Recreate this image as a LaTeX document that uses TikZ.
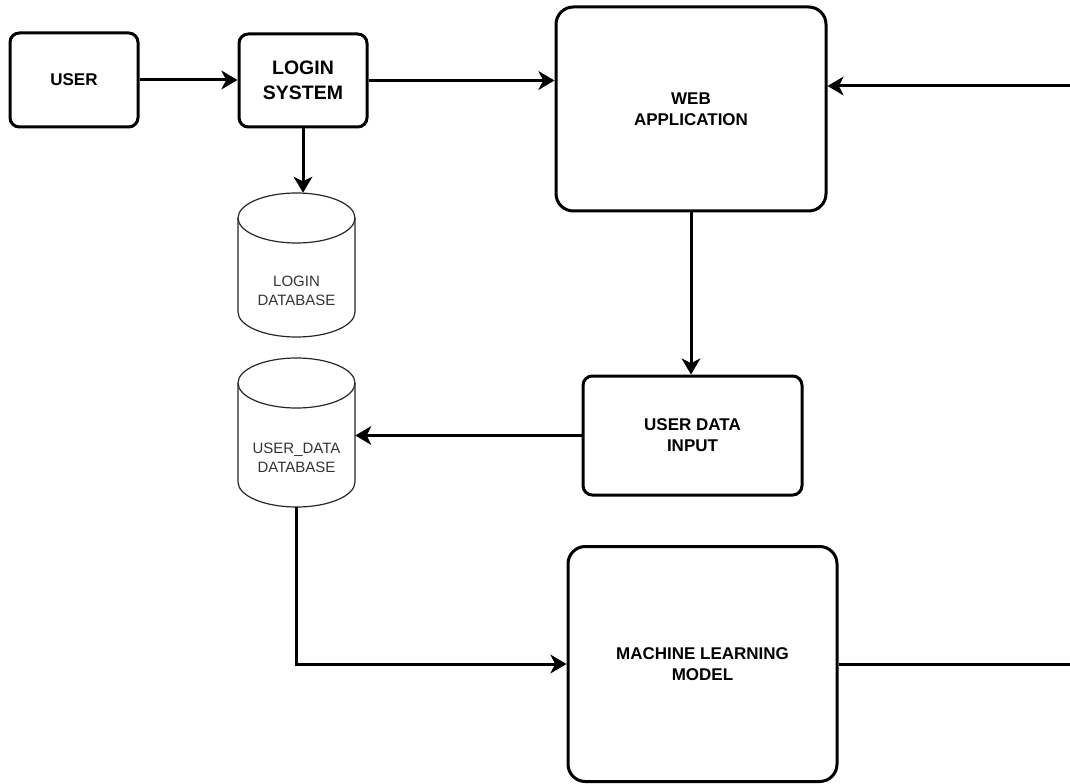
\documentclass[tikz,border=0pt]{standalone}
\usepackage{fontspec}
\setmainfont{Liberation Sans}
\usetikzlibrary{arrows.meta}
\newcommand\drawcyl[3]{% center x, top y, bottom y (px)
  \draw[cyl] (#1,#2+25) ellipse [x radius=58.5, y radius=25];
  \draw[cyl] (#1-58.5,#2+25) -- (#1-58.5,#3-25)
     arc[start angle=180, end angle=0, x radius=58.5, y radius=25] -- (#1+58.5,#2+25);
}
\begin{document}
\begin{tikzpicture}[x=0.75pt,y=-0.75pt,
  box/.style={draw, line width=2.25pt, rounded corners=7pt, align=center,
    font=\bfseries\fontsize{12.75}{15.75}\selectfont, inner sep=0pt},
  big/.style={box, rounded corners=13pt},
  conn/.style={line width=2.25pt, -{Stealth[length=12pt,width=14pt,inset=3.5pt]}},
  dbbox/.style={draw=none, minimum width=87.75pt, inner sep=0pt},
  dbtext/.style={align=center, font=\fontsize{11.25}{14.25}\selectfont, text=black!80, inner sep=0pt},
  cyl/.style={line width=0.9pt, black!85}]
\useasboundingbox (0,0) rectangle (1070,784);
\clip (0,0) rectangle (1070,784);

% boxes
\node[box, minimum width=96pt, minimum height=70.5pt] (user) at (74,80) {USER};
\node[box, minimum width=96pt, minimum height=69.75pt,
      font=\bfseries\fontsize{14.6}{18.75}\selectfont] (login) at (303,80.5) {LOGIN\\SYSTEM};
\node[big, minimum width=202.5pt, minimum height=153pt] (web) at (691,109) {WEB\\APPLICATION};
\node[box, minimum width=164.25pt, minimum height=89.25pt] (udi) at (692.5,435.5) {USER DATA\\INPUT};
\node[big, minimum width=201.75pt, minimum height=176.25pt] (ml) at (702.5,664) {MACHINE LEARNING\\MODEL};

% databases
\node[dbbox, minimum height=108pt] (ldb) at (296.5,265) {};
\drawcyl{296.5}{193}{337}
\node[dbtext] (ldbt) at (296.5,290.5) {LOGIN\\DATABASE};

\node[dbbox, minimum height=111.75pt] (udb) at (296.5,432.5) {};
\drawcyl{296.5}{358}{507}
\node[dbtext] (udbt) at (296.5,457.5) {USER\_DATA\\DATABASE};

% connectors
\coordinate (rc) at (1076,86);
\draw[conn] (user.east) -- (user.east -| login.west);
\draw[conn] (login.east) -- (login.east -| web.west);
\draw[conn] (login.south) -- (login.south |- ldb.north);
\draw[conn] (web.south) -- (web.south |- udi.north);
\draw[conn] (udi.west) -- (udi.west -| udb.east);
\draw[conn] (udb.south) |- (ml.west);
\draw[conn] (ml.east) -| (rc) -- (rc -| web.east);
\end{tikzpicture}
\end{document}
